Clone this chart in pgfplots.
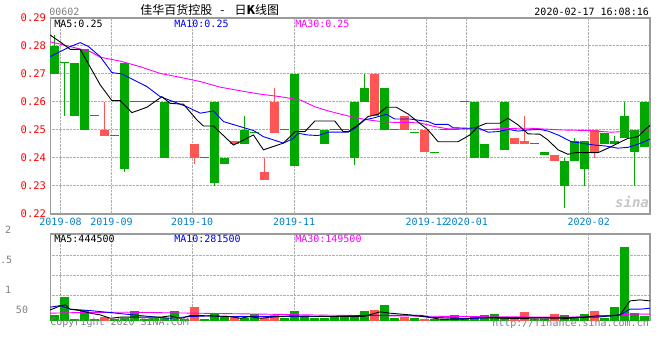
\documentclass[border=0pt]{standalone}
\usepackage{pgfplots}
\pgfplotsset{compat=1.18}
\usepackage{fontspec}
\setmainfont{DejaVu Sans Mono}
\newfontfamily\cjk{Noto Sans CJK SC}
\definecolor{kgreen}{RGB}{0,168,0}
\definecolor{kred}{RGB}{255,85,85}
\definecolor{xblue}{RGB}{0,128,200}
\definecolor{maten}{RGB}{0,0,255}
\definecolor{mathirty}{RGB}{255,0,255}
\definecolor{txtgray}{RGB}{128,128,128}
\definecolor{gridgray}{RGB}{175,175,175}
\definecolor{framegray}{RGB}{155,155,155}
\pgfplotsset{kbase/.style={
  scale only axis, width=600pt, xmin=-0.45, xmax=59.55,
  axis line style={framegray, line width=1.2pt},
  major tick length=0pt,
  grid=major, major grid style={gridgray, densely dotted, line width=1pt},
  xtick={0.58,5.68,13.75,23.95,37.22,41.22,53.42},
  unbounded coords=jump,
  clip=true,
}}
\begin{document}
\begin{tikzpicture}
\path (0pt,0pt) rectangle (660pt,360pt);
% ---------------- price chart ----------------
\begin{axis}[kbase, at={(50pt,146pt)}, anchor=south west, height=196pt,
  ymin=0.22, ymax=0.29,
  ytick={0.22,0.23,0.24,0.25,0.26,0.27,0.28,0.29},
  yticklabels={0.22,0.23,0.24,0.25,0.26,0.27,0.28,0.29},
  xticklabels={2019-08,2019-09,2019-10,2019-11,2019-12,2020-01,2020-02},
  yticklabel style={text=red, font=\fontsize{10.5}{10.5}\selectfont, inner sep=0pt, xshift=-4pt},
  xticklabel style={text=xblue, font=\fontsize{10}{10}\selectfont, inner sep=0pt, yshift=-4pt},
]
% wicks
\addplot[kgreen, line width=1pt] coordinates {
 (0,0.270)(0,0.284)(0,nan) (1,0.255)(1,0.274)(1,nan) (7,0.235)(7,0.274)(7,nan)
 (16,0.230)(16,0.260)(16,nan) (19,0.245)(19,0.255)(19,nan) (30,0.2375)(30,0.260)(30,nan)
 (31,0.260)(31,0.270)(31,nan) (51,0.222)(51,0.240)(51,nan) (52,0.239)(52,0.247)(52,nan)
 (53,0.230)(53,0.246)(53,nan) (56,0.245)(56,0.248)(56,nan) (57,0.247)(57,0.260)(57,nan)
 (58,0.230)(58,0.250)(58,nan)};
\addplot[kred, line width=1pt] coordinates {
 (5,0.248)(5,0.260)(5,nan) (14,0.238)(14,0.245)(14,nan) (21,0.232)(21,0.240)(21,nan)
 (22,0.249)(22,0.265)(22,nan) (47,0.245)(47,0.255)(47,nan) (54,0.240)(54,0.250)(54,nan)};
% bodies
\addplot[kgreen, line width=9pt] coordinates {
 (0,0.270)(0,0.280)(0,nan) (2,0.255)(2,0.274)(2,nan) (3,0.250)(3,0.279)(3,nan)
 (7,0.236)(7,0.274)(7,nan) (11,0.240)(11,0.260)(11,nan) (16,0.231)(16,0.260)(16,nan)
 (17,0.238)(17,0.240)(17,nan) (19,0.245)(19,0.250)(19,nan) (24,0.237)(24,0.270)(24,nan)
 (27,0.245)(27,0.250)(27,nan) (30,0.240)(30,0.260)(30,nan) (31,0.260)(31,0.265)(31,nan)
 (33,0.250)(33,0.265)(33,nan) (42,0.240)(42,0.260)(42,nan) (43,0.240)(43,0.245)(43,nan)
 (45,0.243)(45,0.260)(45,nan) (49,0.241)(49,0.242)(49,nan) (51,0.230)(51,0.239)(51,nan)
 (52,0.239)(52,0.246)(52,nan) (53,0.236)(53,0.246)(53,nan) (55,0.245)(55,0.249)(55,nan)
 (56,0.245)(56,0.246)(56,nan) (57,0.247)(57,0.255)(57,nan) (58,0.242)(58,0.250)(58,nan)
 (59,0.244)(59,0.260)(59,nan)};
\addplot[kred, line width=9pt] coordinates {
 (5,0.248)(5,0.250)(5,nan) (14,0.240)(14,0.245)(14,nan) (18,0.245)(18,0.246)(18,nan)
 (21,0.232)(21,0.235)(21,nan) (22,0.249)(22,0.260)(22,nan) (32,0.255)(32,0.270)(32,nan)
 (35,0.250)(35,0.255)(35,nan) (37,0.242)(37,0.250)(37,nan) (46,0.245)(46,0.247)(46,nan)
 (47,0.245)(47,0.246)(47,nan) (50,0.239)(50,0.241)(50,nan) (54,0.242)(54,0.250)(54,nan)};
% flat candles
\addplot[kgreen, line width=1pt] coordinates {
 (0.55,0.274)(1.45,0.274)(1,nan) (3.55,0.255)(4.45,0.255)(4,nan) (5.55,0.248)(6.45,0.248)(6,nan)
 (7.55,0.260)(10.45,0.260)(10,nan) (11.55,0.260)(13.45,0.260)(13,nan) (14.55,0.240)(15.45,0.240)(15,nan)
 (19.55,0.249)(20.45,0.249)(20,nan) (22.55,0.250)(23.45,0.250)(23,nan) (24.55,0.250)(26.45,0.250)(26,nan)
 (27.55,0.250)(29.45,0.250)(29,nan) (33.55,0.250)(34.45,0.250)(34,nan) (35.55,0.249)(36.45,0.249)(36,nan)
 (37.55,0.242)(38.45,0.242)(38,nan) (38.55,0.250)(40.45,0.250)(40,nan) (40.55,0.260)(41.45,0.260)(41,nan)
 (43.55,0.250)(44.45,0.250)(44,nan) (47.55,0.245)(48.45,0.245)(48,nan)};
% MA30
\addplot[mathirty, line width=0.9pt] coordinates {
 (-0.45,0.2815)(1.55,0.2798)(3.55,0.2780)(4.55,0.2760)(6.55,0.2746)(8.55,0.2726)(10.55,0.2702)
 (12.55,0.2688)(14.55,0.2673)(16.55,0.2653)(18.55,0.2640)(20.55,0.2628)(22.55,0.2619)(24.55,0.2607)
 (26.02,0.2583)(27.35,0.2568)(28.68,0.2556)(30.02,0.2544)(31.35,0.2536)(32.68,0.2530)(34.02,0.2527)
 (35.55,0.2527)(36.68,0.2524)(38.02,0.2512)(39.35,0.2504)(41.35,0.2504)(42.68,0.2500)(44.35,0.2504)
 (46.35,0.2506)(47.55,0.2506)(48.68,0.2504)(50.68,0.2500)(53.35,0.2498)(55.68,0.2492)(57.35,0.2495)(59.55,0.2496)};
% MA10
\addplot[maten, line width=0.9pt] coordinates {
 (-0.45,0.2762)(1.55,0.2798)(2.55,0.2812)(3.38,0.2798)(4.55,0.2762)(5.72,0.2705)(6.72,0.2700)
 (7.88,0.2679)(9.22,0.2655)(10.55,0.2619)(11.88,0.2601)(13.22,0.2583)(14.55,0.2560)(15.88,0.2568)
 (16.88,0.2530)(18.55,0.2512)(19.88,0.2498)(20.88,0.2476)(22.88,0.2453)(23.88,0.2470)(24.35,0.2488)
 (25.35,0.2482)(26.35,0.2480)(27.35,0.2492)(29.35,0.2492)(30.02,0.2506)(31.02,0.2536)(32.02,0.2544)
 (33.18,0.2556)(34.02,0.2539)(35.55,0.2539)(37.35,0.2530)(38.02,0.2520)(39.35,0.2520)(39.85,0.2508)
 (41.35,0.2506)(42.35,0.2508)(43.35,0.2492)(44.35,0.2494)(45.35,0.2502)(46.35,0.2496)(47.35,0.2500)
 (48.52,0.2502)(49.35,0.2496)(50.35,0.2482)(51.68,0.2458)(52.68,0.2453)(54.02,0.2446)(55.02,0.2443)
 (56.35,0.2435)(57.35,0.2438)(58.35,0.2449)(59.62,0.2468)};
% MA5
\addplot[black, line width=0.9pt] coordinates {
 (-0.45,0.2839)(0.72,0.2810)(1.55,0.2788)(2.55,0.2788)(4.55,0.2661)(5.72,0.2605)(6.55,0.2605)
 (7.72,0.2562)(9.22,0.2581)(10.72,0.2619)(11.55,0.2595)(12.88,0.2592)(14.22,0.2536)(14.88,0.2514)
 (15.88,0.2514)(17.88,0.2446)(19.88,0.2482)(20.88,0.2429)(22.88,0.2453)(24.05,0.2494)(25.02,0.2494)
 (26.02,0.2532)(28.02,0.2532)(28.85,0.2494)(29.35,0.2494)(30.35,0.2518)(31.35,0.2548)(32.35,0.2556)
 (33.18,0.2581)(34.18,0.2581)(35.35,0.2557)(37.35,0.2500)(38.35,0.2458)(40.35,0.2458)(41.52,0.2482)
 (42.35,0.2512)(43.18,0.2524)(44.52,0.2524)(45.35,0.2542)(46.35,0.2518)(47.35,0.2486)(48.52,0.2485)
 (49.35,0.2464)(50.35,0.2429)(51.35,0.2413)(52.02,0.2419)(54.35,0.2419)(55.35,0.2435)(56.35,0.2453)
 (57.35,0.2470)(58.35,0.2476)(59.02,0.2500)(59.62,0.2518)};
\end{axis}
% ---------------- volume chart ----------------
\begin{axis}[kbase, at={(50pt,39pt)}, anchor=south west, height=87pt,
  ymin=0, ymax=2, ytick={0.582,1.041,1.501},
  xticklabels={,,,,,,}, yticklabels={,,},
  ticklabel style={inner sep=0pt, font=\fontsize{2}{2}\selectfont},
]
\addplot[kgreen, line width=9pt] coordinates {
 (0,0)(0,0.138)(0,nan) (1,0)(1,0.552)(1,nan) (2,0)(2,0.05)(2,nan) (3,0)(3,0.253)(3,nan)
 (4,0)(4,0.05)(4,nan) (6,0)(6,0.05)(6,nan) (7,0)(7,0.077)(7,nan) (8,0)(8,0.23)(8,nan)
 (9,0)(9,0.05)(9,nan) (10,0)(10,0.07)(10,nan) (11,0)(11,0.07)(11,nan) (12,0)(12,0.23)(12,nan)
 (13,0)(13,0.05)(13,nan) (15,0)(15,0.05)(15,nan) (16,0)(16,0.176)(16,nan) (17,0)(17,0.08)(17,nan)
 (19,0)(19,0.077)(19,nan) (20,0)(20,0.16)(20,nan) (23,0)(23,0.07)(23,nan) (24,0)(24,0.23)(24,nan)
 (25,0)(25,0.085)(25,nan) (26,0)(26,0.07)(26,nan) (27,0)(27,0.07)(27,nan) (28,0)(28,0.115)(28,nan)
 (29,0)(29,0.138)(29,nan) (30,0)(30,0.138)(30,nan) (31,0)(31,0.23)(31,nan) (33,0)(33,0.368)(33,nan)
 (34,0)(34,0.07)(34,nan) (36,0)(36,0.07)(36,nan) (38,0)(38,0.05)(38,nan) (39,0)(39,0.05)(39,nan)
 (40,0)(40,0.138)(40,nan) (41,0)(41,0.07)(41,nan) (42,0)(42,0.115)(42,nan) (43,0)(43,0.138)(43,nan)
 (44,0)(44,0.16)(44,nan) (45,0)(45,0.07)(45,nan) (48,0)(48,0.05)(48,nan) (49,0)(49,0.05)(49,nan)
 (51,0)(51,0.138)(51,nan) (52,0)(52,0.07)(52,nan) (53,0)(53,0.16)(53,nan) (55,0)(55,0.07)(55,nan)
 (56,0)(56,0.32)(56,nan) (57,0)(57,1.70)(57,nan) (58,0)(58,0.176)(58,nan) (59,0)(59,0.115)(59,nan)};
\addplot[kred, line width=9pt] coordinates {
 (5,0)(5,0.092)(5,nan) (14,0)(14,0.32)(14,nan) (18,0)(18,0.107)(18,nan) (21,0)(21,0.07)(21,nan)
 (22,0)(22,0.138)(22,nan) (32,0)(32,0.253)(32,nan) (35,0)(35,0.085)(35,nan) (37,0)(37,0.05)(37,nan)
 (46,0)(46,0.05)(46,nan) (47,0)(47,0.207)(47,nan) (50,0)(50,0.16)(50,nan) (54,0)(54,0.23)(54,nan)};
\addplot[mathirty, line width=0.9pt] coordinates {
 (-0.45,0.177)(2.2,0.191)(7.2,0.20)(21.2,0.154)(27.55,0.13)(40.85,0.10)(50.85,0.085)
 (54.25,0.10)(56.55,0.138)(57.55,0.154)(59.55,0.154)};
\addplot[maten, line width=0.9pt] coordinates {
 (-0.45,0.315)(0.55,0.352)(1.55,0.269)(3.55,0.237)(5.55,0.191)(7.55,0.145)(9.55,0.10)(11.55,0.06)
 (13.55,0.10)(15.55,0.115)(17.55,0.10)(27.55,0.10)(31.55,0.13)(36.55,0.13)(37.55,0.085)(41.55,0.05)
 (43.55,0.077)(50.85,0.077)(54.25,0.085)(56.55,0.138)(57.55,0.269)(58.55,0.269)(59.55,0.292)};
\addplot[black, line width=0.9pt] coordinates {
 (-0.45,0.253)(0.55,0.345)(1.05,0.368)(1.55,0.268)(2.55,0.237)(3.55,0.177)(4.55,0.138)(5.55,0.06)
 (6.55,0.085)(10.55,0.085)(11.55,0.115)(12.55,0.05)(13.55,0.122)(14.55,0.122)(15.55,0.115)
 (17.55,0.10)(18.55,0.06)(19.55,0.10)(20.55,0.06)(21.55,0.085)(23.55,0.115)(27.55,0.10)(30.85,0.10)
 (32.55,0.207)(33.55,0.177)(35.55,0.138)(37.55,0.077)(38.55,0.04)(40.85,0.04)(42.2,0.077)(45.2,0.06)
 (47.55,0.05)(50.85,0.05)(52.88,0.085)(54.22,0.115)(55.55,0.115)(56.55,0.138)(57.55,0.46)
 (58.55,0.483)(59.55,0.46)};
\end{axis}
% ---------------- texts ----------------
\begin{scope}[every node/.style={inner sep=0pt, font=\fontsize{10}{10}\selectfont}]
\node[anchor=west, text=txtgray] at (49pt,348pt) {00602};
\node[anchor=west, font=\cjk\fontsize{12}{12}\selectfont] at (140pt,350pt) {佳华百货控股\hspace{8pt}-\hspace{10pt}日\textbf{K}线图};
\node[anchor=east] at (649pt,348pt) {2020-02-17 16:08:16};
\node[anchor=west] at (54pt,336pt) {MA5:0.25};
\node[anchor=west, text=maten] at (174pt,336pt) {MA10:0.25};
\node[anchor=west, text=mathirty] at (295pt,336pt) {MA30:0.25};
\node[anchor=west] at (54pt,121.5pt) {MA5:444500};
\node[anchor=west, text=maten] at (174pt,121.5pt) {MA10:281500};
\node[anchor=west, text=mathirty] at (295pt,121.5pt) {MA30:149500};
\node[anchor=east, text=txtgray] at (11pt,130pt) {2};
\node[anchor=east, text=txtgray] at (12pt,100pt) {.5};
\node[anchor=east, text=txtgray] at (11pt,70pt) {1};
\node[anchor=east, text=txtgray] at (28pt,50pt) {50};
\node[anchor=west, text=txtgray] at (50pt,37pt) {Copyright 2020 SINA.COM};
\node[anchor=east, text=txtgray] at (649pt,36pt) {http://finance.sina.com.cn};
\node[text=gray!45, font=\fontsize{14}{14}\selectfont\bfseries\itshape] at (632pt,158pt) {sina};
\end{scope}
\end{tikzpicture}
\end{document}
